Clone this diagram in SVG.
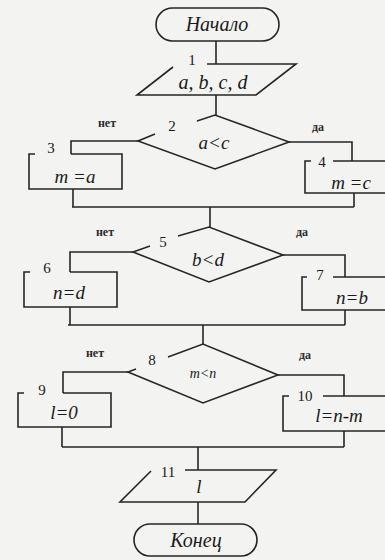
<svg xmlns="http://www.w3.org/2000/svg" width="385" height="560" viewBox="0 0 385 560">
<style>
.s{fill:none;stroke:#262626;stroke-width:1.6;stroke-linejoin:miter}
.t{font-family:"Liberation Serif","Times New Roman",serif;font-style:italic;fill:#1a1a1a;text-anchor:middle;font-size:19px}
.n{font-family:"Liberation Serif","Times New Roman",serif;fill:#1a1a1a;font-size:15px;text-anchor:middle}
.y{font-family:"Liberation Serif","Times New Roman",serif;font-weight:bold;fill:#2a2a2a;font-size:12px;text-anchor:middle}
</style>
<rect width="385" height="560" fill="#f3f3f1"/>
<g id="connectors" class="s">
<path d="M216 41V64M216 95V115"/>
<path d="M138 141H71V154M289 142H352V161"/>
<path d="M73 189V207M354 193V207M72 207H354M210 207V227"/>
<path d="M133 252H70V272M283 255H345V277"/>
<path d="M70 307V325M345 310V325M68 325H345M203 325V344"/>
<path d="M128 372H63V393M278 375H344V396"/>
<path d="M62 427V447M344 431V447M62 447H344M198 447V470"/>
<path d="M198 502V524"/>
</g>
<g id="start">
<rect class="s" x="156" y="8" width="123" height="33" rx="16.5"/>
<text class="t" x="217" y="31" style="font-size:20px">Начало</text>
</g>
<g id="n1">
<path class="s" d="M207 64H296L256 95H137L173 67"/>
<text class="n" x="192" y="65">1</text>
<text class="t" x="213" y="89" style="font-size:20px">a, b, c, d</text>
</g>
<g id="n2">
<path class="s" d="M197 121L215 115L289 142L215 169L138 141L155 134"/>
<text class="n" x="172" y="131">2</text>
<text class="t" x="214" y="149">a&lt;c</text>
<text class="y" x="107" y="127">нет</text>
<text class="y" x="318" y="131">да</text>
</g>
<g id="n3">
<path class="s" d="M35 154H29V189H122V154H71"/>
<text class="n" x="51" y="153">3</text>
<text class="t" x="75" y="183">m =a</text>
</g>
<g id="n4">
<path class="s" d="M311 161H305V193H400M333 161H400"/>
<text class="n" x="322" y="167">4</text>
<text class="t" x="351" y="189">m =c</text>
</g>
<g id="n5">
<path class="s" d="M178 236L209 227L283 255L209 282L133 252L150 246"/>
<text class="n" x="163" y="247">5</text>
<text class="t" x="208" y="266">b&lt;d</text>
<text class="y" x="105" y="236">нет</text>
<text class="y" x="302" y="236">да</text>
</g>
<g id="n6">
<path class="s" d="M30 272H24V307H117V272H70"/>
<text class="n" x="47" y="273">6</text>
<text class="t" x="69" y="299">n=d</text>
</g>
<g id="n7">
<path class="s" d="M307 277H302V310H400M333 277H400"/>
<text class="n" x="320" y="280">7</text>
<text class="t" x="352" y="304">n=b</text>
</g>
<g id="n8">
<path class="s" d="M168 357L203 344L278 375L203 403L128 372L136 369"/>
<text class="n" x="152" y="365">8</text>
<text class="t" x="203" y="378" style="font-size:14px">m&lt;n</text>
<text class="y" x="95" y="357">нет</text>
<text class="y" x="305" y="359">да</text>
</g>
<g id="n9">
<path class="s" d="M24 393H18V427H111V393H63"/>
<text class="n" x="42" y="395">9</text>
<text class="t" x="64" y="419">l=0</text>
</g>
<g id="n10">
<path class="s" d="M289 396H283V431H400M323 396H400"/>
<text class="n" x="305" y="401">10</text>
<text class="t" x="339" y="422">l=n-m</text>
</g>
<g id="n11">
<path class="s" d="M185 470H276L245 502H120L151 471"/>
<text class="n" x="168" y="477">11</text>
<text class="t" x="199" y="493">l</text>
</g>
<g id="end">
<rect class="s" x="134" y="524" width="123" height="32" rx="16"/>
<text class="t" x="196" y="547" style="font-size:20px">Конец</text>
</g>
</svg>
